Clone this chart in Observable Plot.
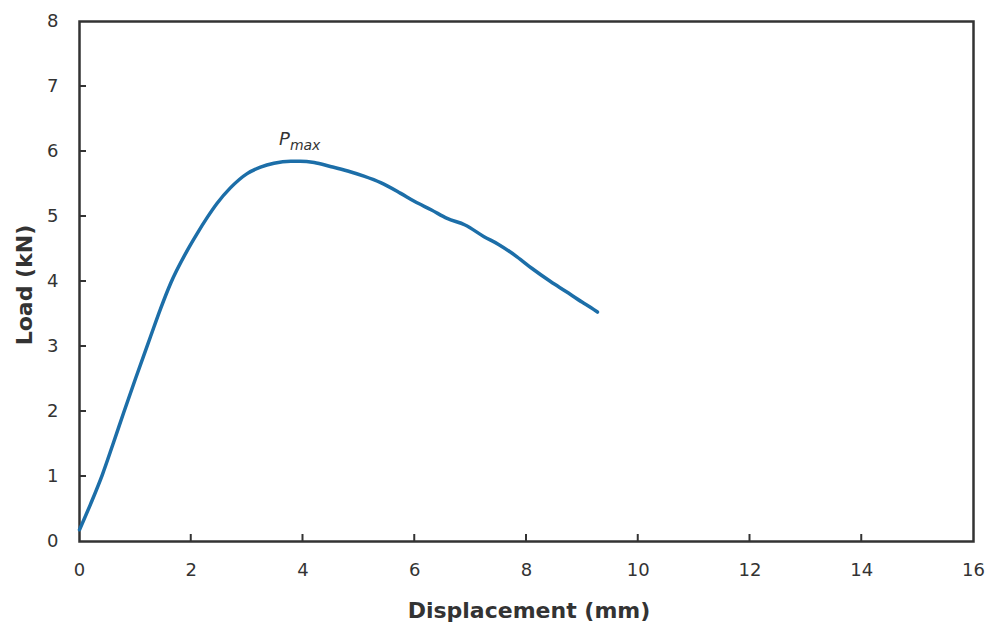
<!DOCTYPE html>
<html>
<head>
<meta charset="utf-8">
<script src="https://cdn.jsdelivr.net/npm/d3@7"></script>
<script src="https://cdn.jsdelivr.net/npm/@observablehq/plot@0.6"></script>
<style>
  html, body { margin: 0; padding: 0; background: #fff; }
  #chart { position: relative; width: 989px; height: 622px; }
</style>
</head>
<body>
<div id="chart"></div>
<script>
const displacement = [0, 0.2, 0.41, 0.6, 0.79, 1.0, 1.27, 1.45, 1.63, 1.93, 2.1, 2.29, 2.46, 2.7, 3.0, 3.24, 3.48, 3.78, 3.95, 4.2, 4.49, 4.8, 5.09, 5.39, 5.74, 6.0, 6.3, 6.58, 6.9, 7.24, 7.5, 7.83, 8.1, 8.43, 8.7, 9.0, 9.15, 9.27];
const load =         [0.18, 0.58, 1.03, 1.5, 1.98, 2.5, 3.15, 3.58, 3.97, 4.48, 4.73, 4.99, 5.2, 5.44, 5.66, 5.76, 5.82, 5.85, 5.85, 5.83, 5.77, 5.7, 5.62, 5.52, 5.36, 5.23, 5.1, 4.97, 4.87, 4.69, 4.57, 4.38, 4.2, 4.0, 3.85, 3.68, 3.6, 3.53];
const xTicks = [0, 2, 4, 6, 8, 10, 12, 14, 16];
const yTicks = [0, 1, 2, 3, 4, 5, 6, 7, 8];

const curve = displacement.map((d, i) => ({x: d, y: load[i]}));
const font = "DejaVu Sans, Verdana, sans-serif";

const plot = Plot.plot({
  width: 989,
  height: 622,
  marginLeft: 79,
  marginRight: 16,
  marginTop: 21,
  marginBottom: 81,
  style: {fontFamily: font, background: "#fff", color: "#333"},
  x: {domain: [0, 16], ticks: xTicks},
  y: {domain: [0, 8], ticks: yTicks},
  marks: [
    Plot.axisX(xTicks, {tickSize: 0, tickPadding: 22, fontSize: 18, fill: "#333", label: null, tickFormat: "d"}),
    Plot.axisY(yTicks, {tickSize: 0, tickPadding: 21, fontSize: 18, fill: "#333", label: null, tickFormat: "d"}),
    Plot.frame({stroke: "#333", strokeWidth: 2.5}),
    Plot.line(curve, {x: "x", y: "y", stroke: "#1c6ea8", strokeWidth: 3.5, curve: "monotone-x"})
  ]
});
document.getElementById("chart").appendChild(plot);

// inward ticks drawn from the plot's own scales
const sx = plot.scale("x"), sy = plot.scale("y");
const svg = d3.select(plot);
const g = svg.append("g").attr("stroke", "#333").attr("stroke-width", 2);
const x0 = sx.apply(0), y0 = sy.apply(0);
xTicks.slice(1, -1).forEach(t => {
  g.append("line").attr("x1", sx.apply(t)).attr("x2", sx.apply(t)).attr("y1", y0).attr("y2", y0 - 7);
});
yTicks.slice(1, -1).forEach(t => {
  g.append("line").attr("x1", x0).attr("x2", x0 + 7).attr("y1", sy.apply(t)).attr("y2", sy.apply(t));
});

// Pmax label
const lab = svg.append("text")
  .attr("x", sx.apply(3.95)).attr("y", sy.apply(6.1))
  .attr("text-anchor", "middle")
  .attr("font-family", font).attr("font-size", 18).attr("font-style", "italic").attr("fill", "#333");
lab.append("tspan").text("P");
lab.append("tspan").attr("font-size", 14).attr("dy", 5).text("max");

// axis titles
svg.append("text")
  .attr("x", (sx.apply(0) + sx.apply(16)) / 2 + 3).attr("y", 618)
  .attr("text-anchor", "middle").attr("font-family", font)
  .attr("font-weight", "bold").attr("font-size", 22).attr("fill", "#333")
  .text("Displacement (mm)");
svg.append("text")
  .attr("transform", `translate(32,${(sy.apply(0) + sy.apply(8)) / 2 + 4}) rotate(-90)`)
  .attr("text-anchor", "middle").attr("font-family", font)
  .attr("font-weight", "bold").attr("font-size", 22).attr("fill", "#333")
  .text("Load (kN)");
</script>
</body>
</html>
